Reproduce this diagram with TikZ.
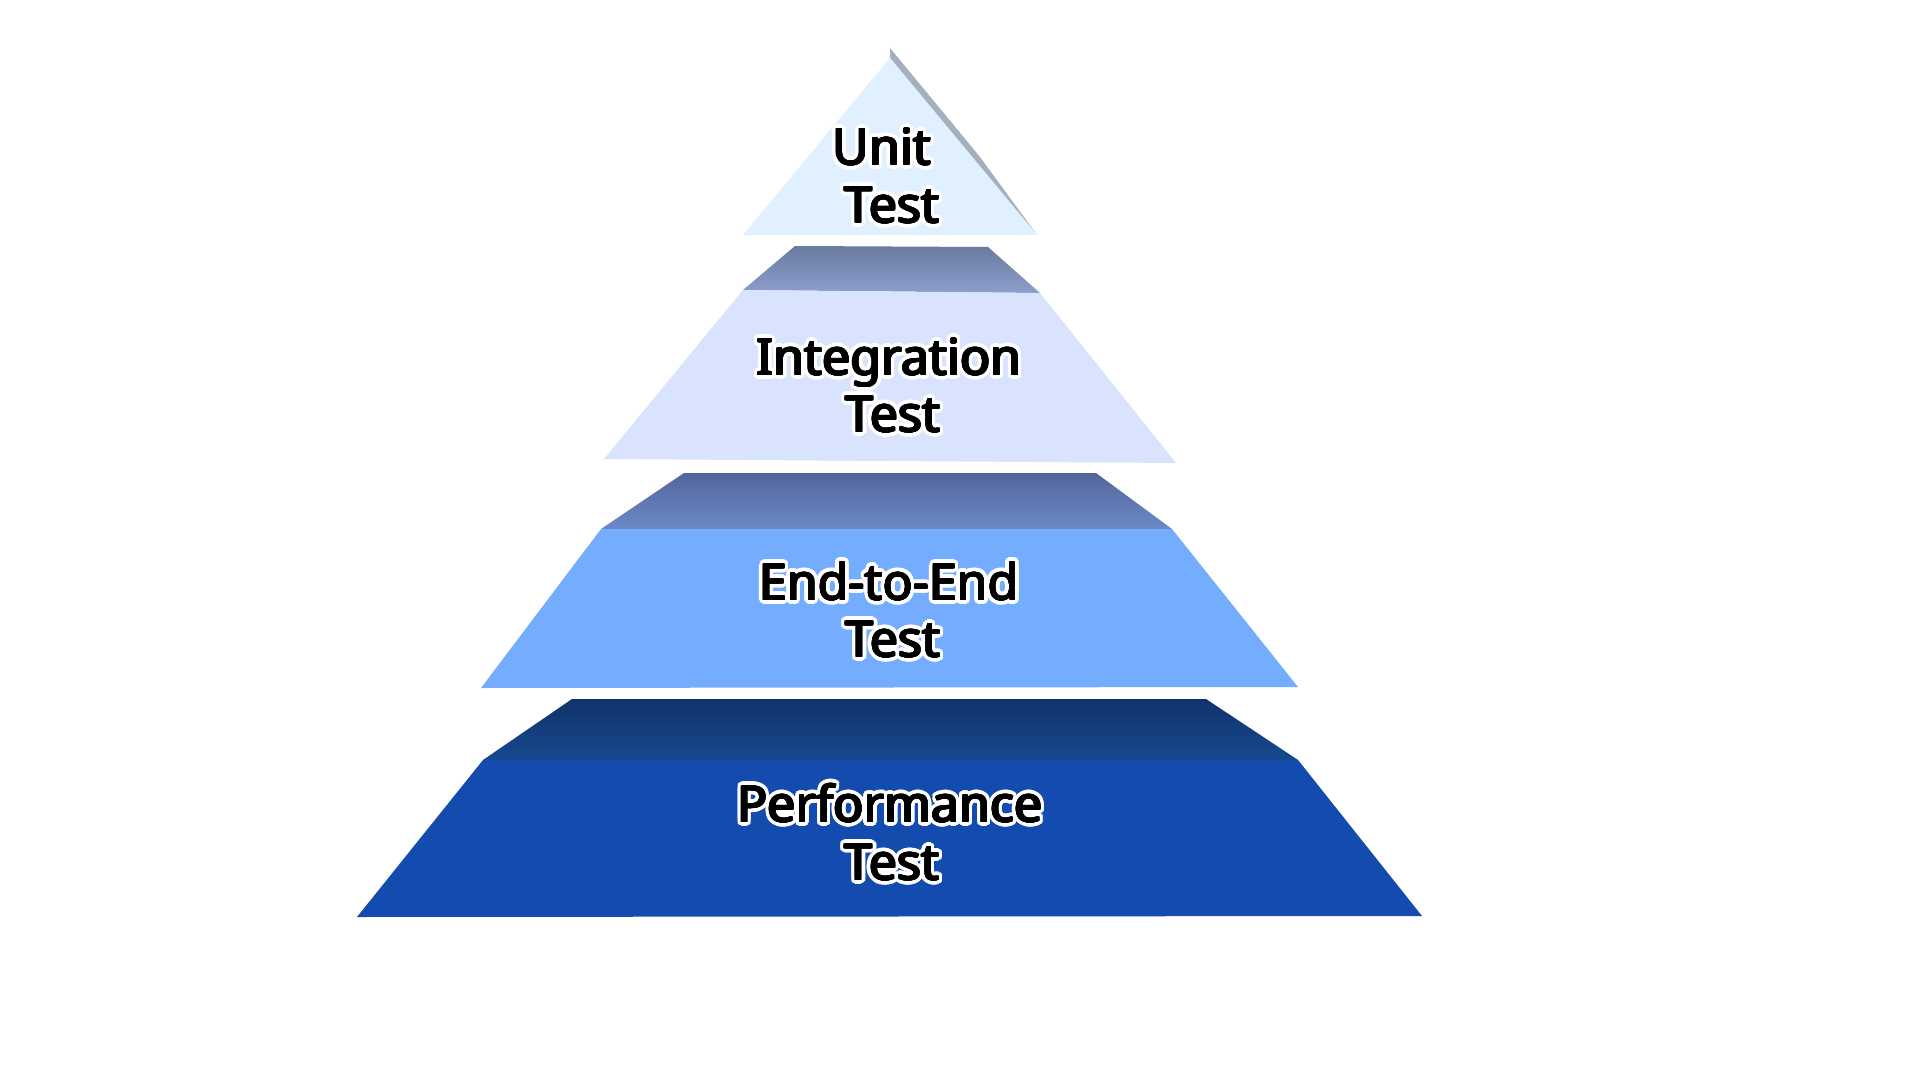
\documentclass[tikz,border=0pt]{standalone}
\usepackage{fontspec}
\newfontfamily\labfont{Noto Sans}
\usepackage{contour}
\contournumber{24}
\definecolor{unitfill}{HTML}{E1F0FE}
\definecolor{unitshade}{HTML}{A3B0BE}
\definecolor{intfill}{HTML}{D9E3FE}
\definecolor{inttopA}{HTML}{6A7BA0}
\definecolor{inttopB}{HTML}{8C9ECB}
\definecolor{eefill}{HTML}{75ADFE}
\definecolor{eetopA}{HTML}{52659A}
\definecolor{eetopB}{HTML}{6C8AC8}
\definecolor{perffill}{HTML}{134BAF}
\definecolor{perftopA}{HTML}{11336B}
\definecolor{perftopB}{HTML}{17488F}
\newcommand{\halotext}[1]{{\contourlength{2.2pt}\contour{white}{#1}}}
\newcommand{\inktext}[1]{{\contournumber{12}\contourlength{0.45pt}\contour{black}{#1}}}
\tikzset{
  lab/.style={inner sep=0pt, anchor=base, font=\labfont\fontsize{25}{29}\selectfont, text=black},
}
\begin{document}
\begin{tikzpicture}[x=0.5pt,y=-0.5pt]
\useasboundingbox[fill=white] (0,0) rectangle (1920,1080);
% Unit test (apex)
\fill[unitshade] (890,48) -- (980,157) -- (1037,235) -- (890,58) -- cycle;
\fill[unitfill] (890,58) -- (1037,235) -- (743,235) -- cycle;
% Integration
\shade[top color=inttopA, bottom color=inttopB] (795,246) -- (988,247) -- (1040,293) -- (743,290) -- cycle;
\fill[intfill] (743,290) -- (1040,293) -- (1176,463) -- (604,459) -- cycle;
% End-to-End
\shade[top color=eetopA, bottom color=eetopB] (684,473) -- (1096,473) -- (1172,529) -- (601,529) -- cycle;
\fill[eefill] (601,529) -- (1172,529) -- (1298,687) -- (481,688) -- cycle;
% Performance
\shade[top color=perftopA, bottom color=perftopB] (572,699) -- (1206,699) -- (1298,760) -- (483,760) -- cycle;
\fill[perffill] (483,760) -- (1298,760) -- (1422,916) -- (357,917) -- cycle;
% Label halos
\node[lab] (hu1) at (882,165) {\halotext{Unit}};
\node[lab] (hu2) at (892,223) {\halotext{Test}};
\node[lab] (hi1) at (889,375) {\halotext{Integration}};
\node[lab] (hi2) at (893,432) {\halotext{Test}};
\node[lab] (he1) at (889,600) {\halotext{End-to-End}};
\node[lab] (he2) at (893,657) {\halotext{Test}};
\node[lab] (hp1) at (890,822) {\halotext{Performance}};
\node[lab] (hp2) at (892,880) {\halotext{Test}};
% Labels
\node[lab] (u1) at (882,165) {\inktext{Unit}};
\node[lab] (u2) at (892,223) {\inktext{Test}};
\node[lab] (i1) at (889,375) {\inktext{Integration}};
\node[lab] (i2) at (893,432) {\inktext{Test}};
\node[lab] (e1) at (889,600) {\inktext{End-to-End}};
\node[lab] (e2) at (893,657) {\inktext{Test}};
\node[lab] (p1) at (890,822) {\inktext{Performance}};
\node[lab] (p2) at (892,880) {\inktext{Test}};
\end{tikzpicture}
\end{document}
